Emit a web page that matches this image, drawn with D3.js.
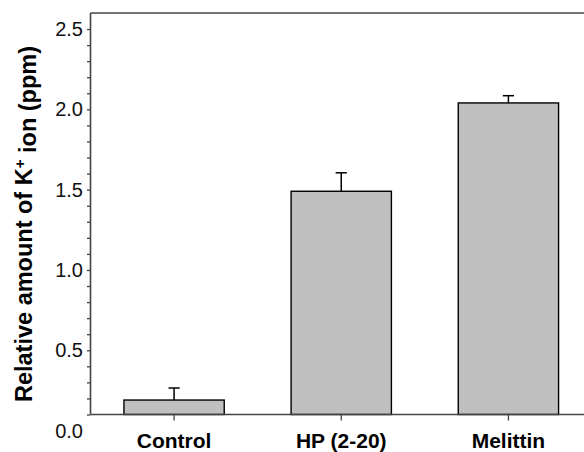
<!DOCTYPE html>
<html>
<head>
<meta charset="utf-8">
<script src="https://cdn.jsdelivr.net/npm/d3@7"></script>
<style>
  html, body { margin: 0; padding: 0; background: #fff; }
  svg { display: block; }
</style>
</head>
<body>
<svg id="chart" width="584" height="452"></svg>
<script>
// ---- data ----
const categories = ["Control", "HP (2-20)", "Melittin"];
const values = [0.19, 1.49, 2.04];
const errors = [0.075, 0.115, 0.045];
const yTickLabels = ["0.0", "0.5", "1.0", "1.5", "2.0", "2.5"];
const yLabelMain = "Relative amount of K";
const yLabelSup = "+";
const yLabelEnd = " ion (ppm)";

(function () {
// ---- layout ----
const svg = d3.select("#chart");
const W = 584;
const plotLeft = 90.5, plotBottom = 414.5, plotTop = 13, rightExt = 592;
const axisColor = "#444";
const font = "'Liberation Sans', Arial, Helvetica, sans-serif";

const y = d3.scaleLinear().domain([0.1, 2.6]).range([plotBottom, plotTop]);
const x = d3.scaleBand().domain(categories).range([plotLeft, rightExt])
  .paddingInner(0.4).paddingOuter(0.2);

// bars
svg.append("g").selectAll("rect").data(categories).join("rect")
  .attr("x", d => x(d))
  .attr("y", (d, i) => y(values[i]))
  .attr("width", x.bandwidth())
  .attr("height", (d, i) => y(0.1) - y(values[i]))
  .attr("fill", "#c0c0c0")
  .attr("stroke", "#000")
  .attr("stroke-width", 1.4);

// error bars (upper only)
const eb = svg.append("g").attr("stroke", "#000").attr("stroke-width", 1.5);
categories.forEach((c, i) => {
  const cx = x(c) + x.bandwidth() / 2;
  eb.append("line").attr("x1", cx).attr("x2", cx)
    .attr("y1", y(values[i])).attr("y2", y(values[i] + errors[i]));
  eb.append("line").attr("x1", cx - 5.6).attr("x2", cx + 5.6)
    .attr("y1", y(values[i] + errors[i])).attr("y2", y(values[i] + errors[i]));
});

// y axis ticks (every 0.1)
const minorTicks = d3.range(1, 26).map(k => k / 10);
const yAxis = svg.append("g").attr("transform", `translate(${plotLeft},0)`)
  .call(d3.axisLeft(y).tickValues(minorTicks).tickSize(3.5).tickFormat(""));
yAxis.select(".domain").remove();
yAxis.selectAll(".tick line").attr("stroke", axisColor).attr("stroke-width", 1.3);

// y tick labels
svg.append("g").selectAll("text").data(yTickLabels).join("text")
  .attr("x", 83)
  .attr("y", d => y(+d))
  .attr("dy", "0.35em")
  .attr("text-anchor", "end")
  .attr("font-family", font)
  .attr("font-size", 20)
  .attr("fill", "#111")
  .text(d => d);

// x axis ticks
const xAxis = svg.append("g").attr("transform", `translate(0,${plotBottom})`)
  .call(d3.axisBottom(x).tickSize(6).tickPadding(10));
xAxis.select(".domain").remove();
xAxis.selectAll(".tick line").attr("stroke", axisColor).attr("stroke-width", 1.3);
xAxis.selectAll(".tick text")
  .attr("font-family", font)
  .attr("font-size", 21)
  .attr("font-weight", "bold")
  .attr("fill", "#000")
  .attr("dy", 0)
  .attr("y", 33);

// frame lines
const frame = svg.append("g").attr("stroke", axisColor).attr("stroke-width", 1.6).attr("fill", "none");
frame.append("line").attr("x1", plotLeft).attr("x2", W).attr("y1", plotBottom).attr("y2", plotBottom);
frame.append("line").attr("x1", plotLeft).attr("x2", plotLeft).attr("y1", plotTop).attr("y2", plotBottom);
frame.append("line").attr("x1", plotLeft).attr("x2", W).attr("y1", plotTop).attr("y2", plotTop);

// y axis label
const yl = svg.append("text")
  .attr("transform", `translate(32,224) rotate(-90)`)
  .attr("text-anchor", "middle")
  .attr("font-family", font)
  .attr("font-size", 23.5)
  .attr("font-weight", "bold")
  .attr("fill", "#000");
yl.append("tspan").text(yLabelMain);
yl.append("tspan").attr("dy", "-0.5em").attr("font-size", 15).text(yLabelSup);
yl.append("tspan").attr("dy", "0.5em").text(yLabelEnd);
})();
</script>
</body>
</html>
